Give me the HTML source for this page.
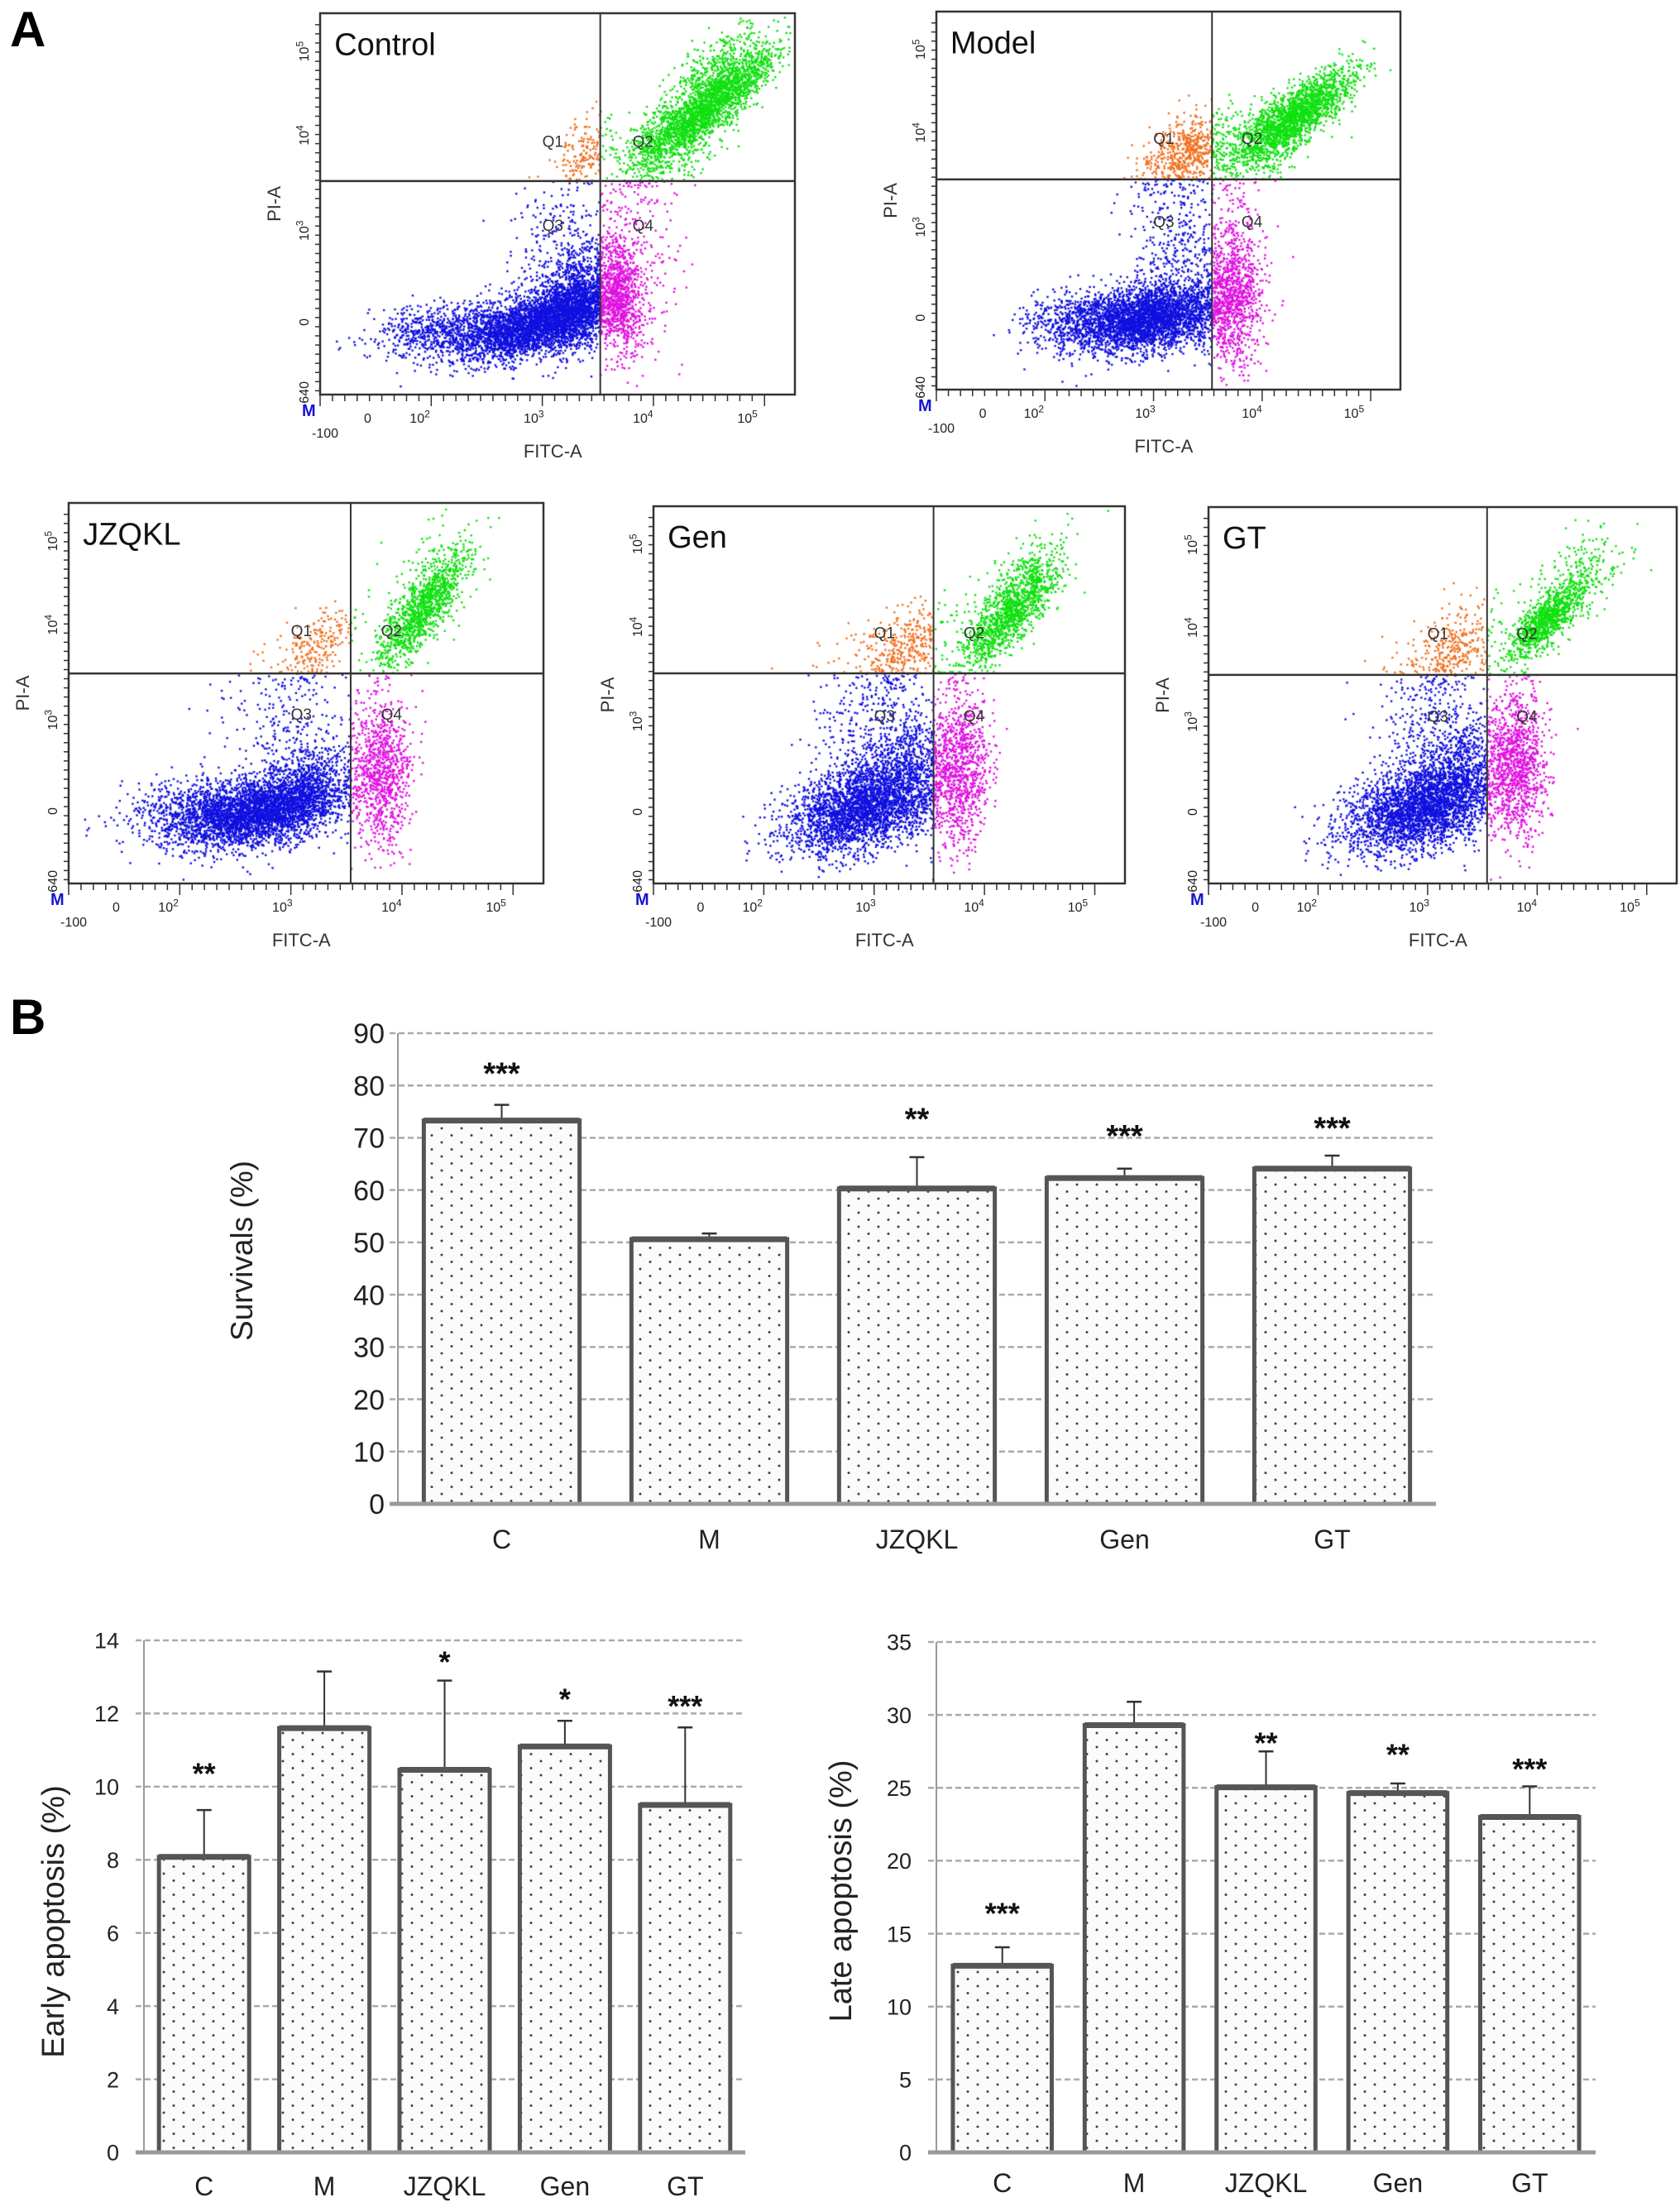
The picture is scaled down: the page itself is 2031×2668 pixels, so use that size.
<!DOCTYPE html>
<html><head><meta charset="utf-8">
<style>
html,body{margin:0;padding:0;background:#fff;}
#root{position:relative;width:2031px;height:2668px;overflow:hidden;background:#fff;font-family:"Liberation Sans",sans-serif;}
canvas{position:absolute;left:0;top:0;}
svg{position:absolute;left:0;top:0;}
</style></head>
<body>
<div id="root">
<canvas id="flow" width="2031" height="1160"></canvas>
<svg id="svg" width="2031" height="2668" viewBox="0 0 2031 2668">
<defs>
<pattern id="dots" width="24" height="17" patternUnits="userSpaceOnUse">
<rect width="24" height="17" fill="#fbfbfb"/>
<circle cx="6" cy="4" r="1.5" fill="#444"/>
<circle cx="18" cy="12.5" r="1.5" fill="#444"/>
</pattern>
</defs>
<text x="12" y="56" font-size="60" font-weight="bold" fill="#000">A</text>
<text x="12" y="1250" font-size="60" font-weight="bold" fill="#000">B</text>
</svg>
</div>
<script>
// ---------- Bar chart data ----------
const categories = ["C","M","JZQKL","Gen","GT"];
const survValues = [73.3, 50.6, 60.3, 62.3, 64.1];
const survErrors = [3.0, 1.1, 6.0, 1.8, 2.5];
const survStars = ["***","","**","***","***"];
const survStarY = [83, 0, 74.3, 71, 72.5];
const survTicks = [0,10,20,30,40,50,60,70,80,90];

const earlyValues = [8.08, 11.6, 10.46, 11.1, 9.5];
const earlyErrors = [1.28, 1.55, 2.44, 0.7, 2.12];
const earlyStars = ["**","","*","*","***"];
const earlyStarY = [10.44, 0, 13.5, 12.48, 12.29];
const earlyTicks = [0,2,4,6,8,10,12,14];

const lateValues = [12.8, 29.3, 25.04, 24.64, 23.0];
const lateErrors = [1.27, 1.6, 2.46, 0.66, 2.1];
const lateStars = ["***","","**","**","***"];
const lateStarY = [16.6, 0, 28.3, 27.5, 26.5];
const lateTicks = [0,5,10,15,20,25,30,35];

// ---------- Flow cytometry cluster descriptors [cx, cy, sx, sy, n, rho] (fractions of plot box) ----------
const flowTitles = ["Control","Model","JZQKL","Gen","GT"];
const flowGates = [[0.59,0.44],[0.594,0.444],[0.594,0.448],[0.594,0.443],[0.595,0.446]];
const flowClusters = [
 [[0.44,0.82,0.08,0.045,3000,-0.5],[0.54,0.76,0.04,0.06,1500,-0.3],[0.25,0.83,0.07,0.035,600,-0.2],[0.50,0.62,0.05,0.08,250,0],[0.63,0.74,0.025,0.08,800,0.2],[0.66,0.66,0.05,0.12,200,0],[0.82,0.24,0.07,0.07,1800,-0.85],[0.74,0.33,0.06,0.07,700,-0.6],[0.85,0.14,0.05,0.05,400,-0.5],[0.55,0.37,0.03,0.05,180,-0.5]],
 [[0.46,0.81,0.08,0.045,3200,-0.3],[0.30,0.82,0.06,0.04,500,0],[0.52,0.62,0.05,0.10,350,0],[0.64,0.74,0.03,0.10,1000,0],[0.54,0.37,0.05,0.05,600,-0.5],[0.78,0.27,0.06,0.06,1700,-0.8],[0.70,0.34,0.05,0.06,500,-0.5]],
 [[0.40,0.81,0.08,0.045,2800,-0.3],[0.28,0.82,0.08,0.045,800,0],[0.50,0.75,0.05,0.06,800,-0.3],[0.45,0.58,0.07,0.10,250,0],[0.66,0.71,0.03,0.10,900,0],[0.52,0.38,0.04,0.05,220,-0.5],[0.74,0.29,0.045,0.07,1000,-0.8],[0.77,0.20,0.05,0.08,250,-0.5]],
 [[0.44,0.80,0.08,0.06,2700,-0.4],[0.53,0.70,0.05,0.08,800,-0.3],[0.45,0.58,0.06,0.10,250,0],[0.65,0.70,0.03,0.11,900,0],[0.53,0.38,0.05,0.06,400,-0.5],[0.75,0.29,0.05,0.07,1100,-0.8],[0.79,0.21,0.05,0.07,300,-0.5]],
 [[0.45,0.80,0.08,0.06,2700,-0.4],[0.53,0.70,0.05,0.08,800,-0.3],[0.46,0.58,0.06,0.10,250,0],[0.66,0.68,0.03,0.10,1000,0],[0.52,0.38,0.05,0.06,350,-0.5],[0.72,0.30,0.04,0.05,900,-0.8],[0.78,0.21,0.05,0.07,300,-0.5]]
];
const flowYTickLabels = ["10^5","10^4","10^3","0","-640"];
const flowYTickFrac = [0.10,0.32,0.57,0.81,1.0];
const flowXTickLabels = ["0","10^2","10^3","10^4","10^5"];
const flowXTickFrac = [0.10,0.21,0.45,0.68,0.90];

const NS="http://www.w3.org/2000/svg";
const svg=document.getElementById('svg');
function mk(tag,attrs,parent,txt){const e=document.createElementNS(NS,tag);for(const k in attrs)e.setAttribute(k,attrs[k]);if(txt!==undefined)e.textContent=txt;(parent||svg).appendChild(e);return e;}

// ---------- Flow panels ----------
const boxes=[[387,16,961,477],[1132,14,1693,471],[83,608,657,1068],[790,612,1360,1068],[1461,613,2027,1068]];
const ctx=document.getElementById('flow').getContext('2d');
let seed=12345;
function rnd(){seed=(seed*1103515245+12345)%2147483648;return seed/2147483648;}
function gauss(){let u=rnd()||1e-6,v=rnd();return Math.sqrt(-2*Math.log(u))*Math.cos(2*Math.PI*v);}
function supText(g,x,y,label,size,rot){
  const t=mk('text',{x:x,y:y,'font-size':size,'text-anchor':'middle',fill:'#222',transform:rot?`rotate(-90 ${x} ${y})`:''},g);
  if(label.indexOf('^')>=0){const p=label.split('^');t.textContent=p[0];mk('tspan',{'font-size':size*0.75,dy:-size*0.4},t,p[1]);}
  else t.textContent=label;
  return t;
}
boxes.forEach((b,i)=>{
  const [x0,y0,x1,y1]=b,w=x1-x0,h=y1-y0,[gx,gy]=flowGates[i];
  flowClusters[i].forEach(c=>{
    const rho=c[5]||0;
    for(let k=0;k<c[4];k++){
      const g1=gauss(),g2=gauss();
      const fx=c[0]+g1*c[2],fy=c[1]+c[3]*(rho*g1+Math.sqrt(1-rho*rho)*g2);
      if(fx<0.01||fx>0.99||fy<0.01||fy>0.99)continue;
      let col;
      if(fy<gy)col=fx<gx?'#f07020':'#10e010';else col=fx<gx?'#1010e0':'#e010e0';
      ctx.fillStyle=col;ctx.fillRect(x0+fx*w-1,y0+fy*h-1,2.4,2.4);
    }
  });
  const g=mk('g',{});
  
  
  mk('rect',{x:x0,y:y0,width:w,height:h,fill:'none',stroke:'#333','stroke-width':2.5},g);
  mk('line',{x1:x0+gx*w,y1:y0,x2:x0+gx*w,y2:y1,stroke:'#333','stroke-width':2},g);
  mk('line',{x1:x0,y1:y0+gy*h,x2:x1,y2:y0+gy*h,stroke:'#333','stroke-width':2.5},g);
  const tt=mk('text',{x:x0+w*0.03,y:y0+h*0.075+16,'font-size':38,fill:'#111'},g,flowTitles[i]);
  
  
  [["Q1",0.49,0.35],["Q2",0.68,0.35],["Q3",0.49,0.57],["Q4",0.68,0.57]].forEach(q=>{
    mk('text',{x:x0+q[1]*w,y:y0+q[2]*h,'font-size':19,'text-anchor':'middle',fill:'#333'},g,q[0]);
  });
  for(let k=0;k<=40;k++){const yy=y0+h*0.03+k*h*0.024;mk('line',{x1:x0-6,y1:yy,x2:x0,y2:yy,stroke:'#333','stroke-width':1.5},g);}
  for(let k=0;k<=36;k++){const xx=x0+k*w*0.026;mk('line',{x1:xx,y1:y1,x2:xx,y2:y1+(k%9==0?14:8),stroke:'#333','stroke-width':1.5},g);}
  flowYTickFrac.forEach((f,k)=>supText(g,x0-14,y0+f*h,flowYTickLabels[k],16,true));
  flowXTickFrac.forEach((f,k)=>supText(g,x0+f*w,y1+34,flowXTickLabels[k],16,false));
  mk('text',{x:x0-10,y:y1+52,'font-size':16,fill:'#222'},g,'-100');
  mk('text',{x:x0-22,y:y1+26,'font-size':20,'font-weight':'bold',fill:'#1515d0'},g,'M');
  const xl=mk('text',{x:x0+w*0.49,y:y1+76,'font-size':22,'text-anchor':'middle',fill:'#333'},g,'FITC-A');
  
  
  const yl=mk('text',{x:x0-48,y:y0+h*0.5,'font-size':22,'text-anchor':'middle',fill:'#333',transform:`rotate(-90 ${x0-48} ${y0+h*0.5})`},g,'PI-A');
  
  
});

// ---------- Bar charts ----------
function barChart(o){
  const g=mk('g',{});
  
  
  const yS=v=>o.y0-(v/o.max)*(o.y0-o.yTop);
  const band=(o.xR-o.xL)/categories.length;
  o.ticks.forEach(t=>{
    if(t>0)mk('line',{x1:o.xL-10,y1:yS(t),x2:o.xR,y2:yS(t),stroke:'#aaa','stroke-width':2.5,'stroke-dasharray':'7 4'},g);
    const tl=mk('text',{x:o.xL-o.tickGap,y:yS(t)+o.tickFont*0.36,'font-size':o.tickFont,'text-anchor':'end',fill:'#222'},g,t);
    
    
  });
  mk('line',{x1:o.xL,y1:o.yTop,x2:o.xL,y2:o.y0,stroke:'#999','stroke-width':2},g);
  categories.forEach((c,i)=>{
    const cx=o.xL+band*(i+0.5),bw=band*0.75,v=o.values[i],e=o.errors[i];
    const top=yS(v);
    mk('line',{x1:cx,y1:yS(v+e),x2:cx,y2:top,stroke:'#333','stroke-width':2},g);
    mk('line',{x1:cx-9,y1:yS(v+e),x2:cx+9,y2:yS(v+e),stroke:'#333','stroke-width':2.5},g);
    const r=mk('rect',{x:cx-bw/2,y:top,width:bw,height:o.y0-top,fill:'url(#dots)',stroke:'#555','stroke-width':5},g);
    
    
    mk('line',{x1:cx-bw/2,y1:top,x2:cx+bw/2,y2:top,stroke:'#555','stroke-width':7},g);
    if(o.stars[i]){const s=mk('text',{x:cx,y:yS(o.starY[i])+o.starFont*0.45,'font-size':o.starFont,'text-anchor':'middle',fill:'#111','font-weight':'bold'},g,o.stars[i]);
      
      }
    const cl=mk('text',{x:cx,y:o.catY,'font-size':o.catFont,'text-anchor':'middle',fill:'#222'},g,c);
    
    
  });
  mk('line',{x1:o.xL-10,y1:o.y0,x2:o.xR,y2:o.y0,stroke:'#999','stroke-width':5},g);
  const yt=mk('text',{x:o.titleX,y:o.titleY,'font-size':o.titleFont,'text-anchor':'middle',fill:'#222',transform:`rotate(-90 ${o.titleX} ${o.titleY})`},g,o.title);
  
  
}
barChart({name:'survival-chart',values:survValues,errors:survErrors,stars:survStars,starY:survStarY,ticks:survTicks,max:90,
  xL:481,xR:1736,y0:1818,yTop:1249,tickFont:34,tickGap:16,catFont:32,catY:1872,starFont:38,title:'Survivals (%)',titleX:305,titleY:1512,titleFont:37});
barChart({name:'early-apoptosis-chart',values:earlyValues,errors:earlyErrors,stars:earlyStars,starY:earlyStarY,ticks:earlyTicks,max:14,
  xL:174,xR:901,y0:2602,yTop:1983,tickFont:27,tickGap:30,catFont:32,catY:2654,starFont:36,title:'Early apoptosis (%)',titleX:77,titleY:2323,titleFont:38});
barChart({name:'late-apoptosis-chart',values:lateValues,errors:lateErrors,stars:lateStars,starY:lateStarY,ticks:lateTicks,max:35,
  xL:1132,xR:1929,y0:2602,yTop:1985,tickFont:27,tickGap:30,catFont:32,catY:2650,starFont:36,title:'Late apoptosis (%)',titleX:1029,titleY:2286,titleFont:38});
</script>
</body></html>
